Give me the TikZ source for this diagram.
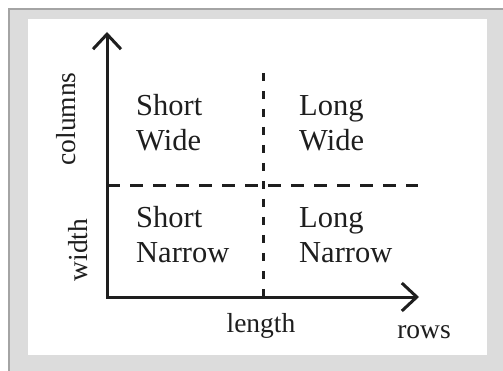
\documentclass[tikz,border=0pt]{standalone}
\usepackage{fontspec}
\setmainfont{Liberation Serif}
\usetikzlibrary{arrows.meta}
\definecolor{bggray}{HTML}{DCDCDC}
\definecolor{framegray}{HTML}{A4A4A4}
\definecolor{ink}{HTML}{1E1E1E}
\begin{document}
\begin{tikzpicture}[x=1pt,y=-1pt,
  axis/.style={draw=ink, line width=3pt, -{Straight Barb[length=15pt,width=28pt]}},
  vdash/.style={draw=ink, line width=3pt, dash pattern=on 8pt off 10pt},
  hdash/.style={draw=ink, line width=3pt, dash pattern=on 13pt off 10pt},
  quad/.style={anchor=base west, align=left, text=ink, inner sep=0pt,
    font=\fontsize{30.5}{35.5}\selectfont},
  axlabel/.style={anchor=base, text=ink, inner sep=0pt,
    font=\fontsize{27.5}{32}\selectfont}]
\useasboundingbox (0,0) rectangle (503,371);
\fill[white] (0,0) rectangle (503,371);
\fill[bggray] (8,8) rectangle (503,371);
\draw[framegray, line width=2pt] (9,371) -- (9,9) -- (503,9);
\fill[white] (28,19) rectangle (487,355);
% coordinates
\coordinate (O) at (107,297);
\coordinate (ytip) at (107,32);
\coordinate (xtip) at (419,297);
\coordinate (vtop) at (263,73);
\coordinate (vbot) at (263,297);
\coordinate (hleft) at (107,186);
\coordinate (hright) at (418,186);
% dashed dividers
\draw[vdash] (vtop) -- (vbot);
\draw[hdash] (hleft) -- (hright);
% axes
\draw[axis, line cap=rect] (O) -- (ytip);
\draw[axis, line cap=rect] (O) -- (xtip);
% quadrant labels (base anchor = baseline of the last line)
\node[quad] (sw) at (136,151) {Short\\Wide};
\node[quad] (lw) at (299,151) {Long\\Wide};
\node[quad] (sn) at (136,263) {Short\\Narrow};
\node[quad] (ln) at (299,263) {Long\\Narrow};
% axis labels
\node[axlabel] (length) at (261,332) {length};
\node[axlabel] (rows) at (424,338) {rows};
\node[axlabel, rotate=90] (columns) at (75,119) {columns};
\node[axlabel, rotate=90] (width) at (87,250) {width};
\end{tikzpicture}
\end{document}
